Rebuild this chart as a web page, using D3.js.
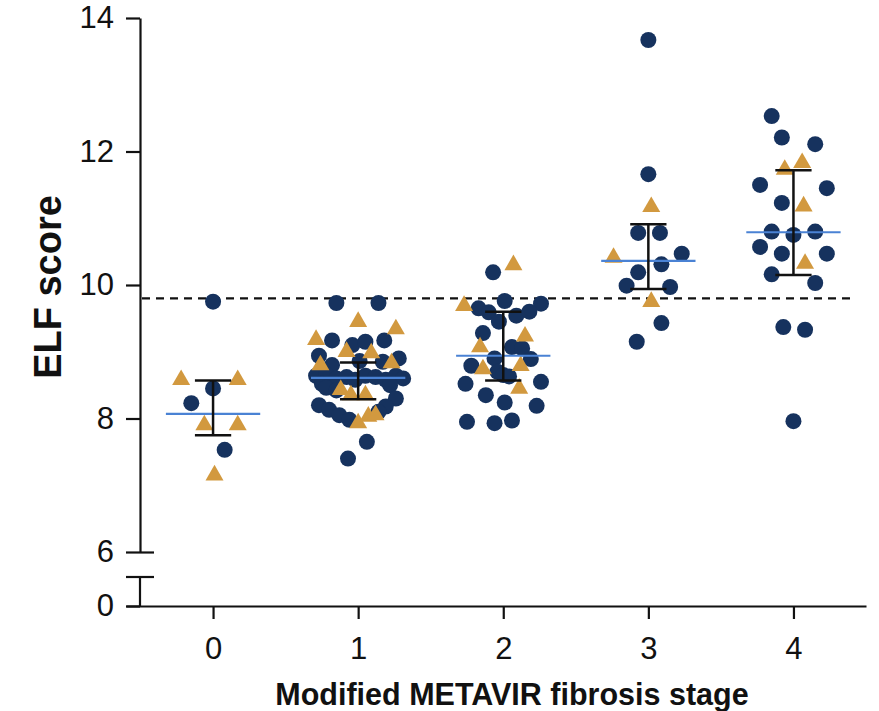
<!DOCTYPE html>
<html>
<head>
<meta charset="utf-8">
<script src="https://cdn.jsdelivr.net/npm/d3@7"></script>
<style>
  body { margin: 0; background: #fff; }
  svg { display: block; font-family: "Liberation Sans", Arial, sans-serif; }
</style>
</head>
<body>
<svg width="879" height="711"></svg>
<script>
// stages and axis ticks
var stages = [0, 1, 2, 3, 4];
var yTicks = [6, 8, 10, 12, 14];
var cutoff = 9.8;

// [jitter (stage units), ELF score]
var dots0 = [[0.0, 9.75], [0.0, 8.45], [-0.15, 8.23], [0.08, 7.53]];
var tris0 = [[-0.22, 8.58], [0.17, 8.58], [-0.06, 7.90], [0.17, 7.90], [0.01, 7.15]];

var dots1 = [[-0.15, 9.73], [0.14, 9.73], [-0.18, 9.17], [-0.04, 9.10], [0.05, 9.15], [0.18, 9.17],
  [-0.27, 8.94], [0.28, 8.90], [-0.18, 8.80], [0.17, 8.85], [0.01, 8.86],
  [-0.29, 8.64], [-0.22, 8.66], [-0.15, 8.60], [-0.08, 8.62], [-0.02, 8.58], [0.05, 8.64],
  [0.12, 8.62], [0.19, 8.58], [0.26, 8.64], [0.31, 8.60],
  [-0.25, 8.52], [0.22, 8.50], [-0.22, 8.46], [-0.15, 8.42], [0.26, 8.30], [0.19, 8.18],
  [-0.27, 8.20], [-0.20, 8.13], [-0.13, 8.05], [-0.06, 7.98], [0.14, 8.10], [0.06, 7.65], [-0.07, 7.40]];
var tris1 = [[0.0, 9.45], [0.26, 9.34], [-0.29, 9.18], [-0.08, 9.00], [0.09, 8.98], [-0.26, 8.80],
  [0.23, 8.83], [-0.12, 8.43], [-0.05, 8.35], [0.05, 8.35], [0.0, 7.93], [0.07, 8.03], [0.12, 8.05]];

var dots2 = [[-0.07, 10.19], [0.01, 9.76], [0.26, 9.72], [-0.17, 9.65], [-0.10, 9.59], [0.09, 9.54],
  [0.18, 9.60], [-0.03, 9.45], [-0.14, 9.28], [0.06, 9.07], [0.13, 9.05], [-0.06, 8.90], [0.19, 8.89],
  [-0.22, 8.79], [-0.04, 8.70], [0.0, 8.65], [0.04, 8.63], [-0.26, 8.52], [0.26, 8.55], [-0.12, 8.35],
  [0.01, 8.24], [0.23, 8.19], [-0.25, 7.95], [-0.06, 7.93], [0.06, 7.97]];
var tris2 = [[0.07, 10.30], [-0.27, 9.69], [0.15, 9.23], [-0.16, 9.07], [-0.14, 8.74], [0.12, 8.79], [0.11, 8.45]];

var dots3 = [[0.0, 13.67], [0.0, 11.66], [-0.07, 10.78], [0.08, 10.78], [0.23, 10.47], [0.09, 10.31],
  [-0.07, 10.19], [-0.15, 9.99], [0.15, 9.97], [0.09, 9.43], [-0.08, 9.15]];
var tris3 = [[0.02, 11.17], [-0.24, 10.41], [0.02, 9.75]];

var dots4 = [[-0.15, 12.53], [-0.08, 12.21], [0.15, 12.11], [-0.23, 11.50], [0.23, 11.45], [-0.08, 11.23],
  [-0.15, 10.80], [0.0, 10.75], [0.15, 10.80], [-0.23, 10.57], [-0.08, 10.47], [0.23, 10.47],
  [-0.15, 10.16], [0.15, 10.03], [-0.07, 9.37], [0.08, 9.33], [0.0, 7.96]];
var tris4 = [[-0.06, 11.73], [0.06, 11.83], [0.07, 11.18], [0.08, 10.32]];

var medians = [8.07, 8.61, 8.94, 10.36, 10.79];
var q1 = [7.75, 8.29, 8.57, 9.94, 10.15];
var q3 = [8.57, 8.84, 9.60, 10.91, 11.72];

var dots = [dots0, dots1, dots2, dots3, dots4];
var tris = [tris0, tris1, tris2, tris3, tris4];

var navy = "#16325e", gold = "#d2993f", blue = "#4a82d4";

var svg = d3.select("svg");
var axisX = 140, zeroY = 606;

var x = d3.scaleLinear().domain([-0.6, 4.5]).range([126, 866]);
var y = d3.scaleLinear().domain([6, 14]).range([552, 18]);
var yLow = d3.scaleLinear().domain([0, 1]).range([zeroY, zeroY - 58]);
var fmt = d3.format("d");

// y axis, upper part
var gy = svg.append("g")
    .attr("transform", "translate(" + axisX + ",0)")
    .call(d3.axisLeft(y).tickValues(yTicks).tickFormat(fmt).tickSize(14).tickSizeOuter(0).tickPadding(12));
gy.selectAll(".tick").filter(function(d) { return d === 6; }).select("line")
    .attr("x1", -14).attr("x2", 14);

// y axis, lower part below the break
var gy0 = svg.append("g")
    .attr("transform", "translate(" + axisX + ",0)")
    .call(d3.axisLeft(yLow).tickValues([0]).tickFormat(fmt).tickSize(14).tickSizeOuter(0).tickPadding(12));
gy0.select(".domain").attr("d", "M0," + yLow(0.5) + "V" + yLow(0));
gy0.append("line")
    .attr("x1", -14).attr("x2", 14)
    .attr("y1", yLow(0.5)).attr("y2", yLow(0.5))
    .attr("stroke", "#000");

// x axis
var gx = svg.append("g")
    .attr("transform", "translate(0," + zeroY + ")")
    .call(d3.axisBottom(x).tickValues(stages).tickFormat(fmt).tickSize(13).tickSizeOuter(0).tickPadding(18));

svg.selectAll(".domain, .tick line, g > line").attr("stroke", "#111").attr("stroke-width", 2.2);
svg.selectAll(".tick text").attr("font-size", 31).attr("fill", "#111")
    .attr("font-family", "Liberation Sans, Arial, sans-serif");

// cutoff line
svg.append("line")
    .attr("x1", axisX + 2).attr("x2", 850)
    .attr("y1", y(cutoff)).attr("y2", y(cutoff))
    .attr("stroke", "#111").attr("stroke-width", 2.2)
    .attr("stroke-dasharray", "8,6");

// points
var pts = svg.append("g");
stages.forEach(function(s) {
    pts.selectAll(null)
        .data(dots[s])
        .enter()
        .append("circle")
        .attr("cx", function(d) { return x(s + d[0]); })
        .attr("cy", function(d) { return y(d[1]); })
        .attr("r", 8)
        .attr("fill", navy);
    pts.selectAll(null)
        .data(tris[s])
        .enter()
        .append("path")
        .attr("d", d3.symbol().type(d3.symbolTriangle).size(140))
        .attr("transform", function(d) { return "translate(" + x(s + d[0]) + "," + y(d[1]) + ")"; })
        .attr("fill", gold);
});

// median and interquartile range
var stat = svg.append("g");
stages.forEach(function(s) {
    stat.append("line")
        .attr("x1", x(s - 0.325)).attr("x2", x(s + 0.325))
        .attr("y1", y(medians[s])).attr("y2", y(medians[s]))
        .attr("stroke", blue).attr("stroke-width", 2.2);
    stat.append("line")
        .attr("x1", x(s)).attr("x2", x(s))
        .attr("y1", y(q1[s])).attr("y2", y(q3[s]))
        .attr("stroke", "#111").attr("stroke-width", 2.5);
    [q1[s], q3[s]].forEach(function(v) {
        stat.append("line")
            .attr("x1", x(s - 0.125)).attr("x2", x(s + 0.125))
            .attr("y1", y(v)).attr("y2", y(v))
            .attr("stroke", "#111").attr("stroke-width", 2.5);
    });
});

// titles
svg.append("text")
    .attr("transform", "translate(61,287) rotate(-90)")
    .attr("text-anchor", "middle")
    .attr("font-size", 38)
    .attr("font-weight", "bold")
    .attr("fill", "#111")
    .text("ELF score");

svg.append("text")
    .attr("x", 512)
    .attr("y", 705)
    .attr("text-anchor", "middle")
    .attr("font-size", 30.5)
    .attr("font-weight", "bold")
    .attr("fill", "#111")
    .text("Modified METAVIR fibrosis stage");
</script>
</body>
</html>
